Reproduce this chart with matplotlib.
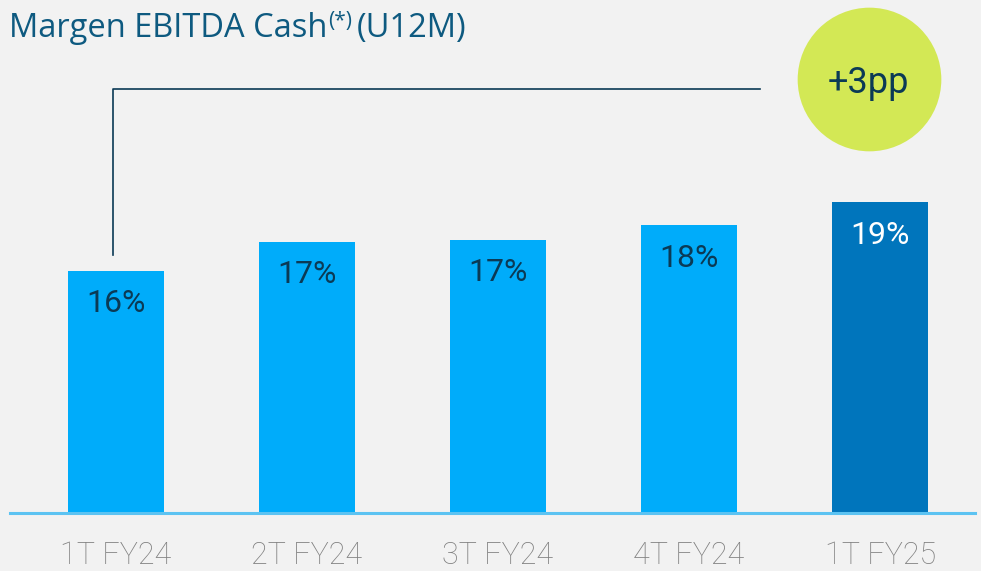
import matplotlib
matplotlib.use("Agg")
import matplotlib.pyplot as plt

# data
quarters = ["1T FY24", "2T FY24", "3T FY24", "4T FY24", "1T FY25"]
margin = [15.8, 17.2, 17.3, 18.0, 19.1]
margin_labels = ["16%", "17%", "17%", "18%", "19%"]
delta_label = "+3pp"

bg = "#f2f2f2"
light_blue = "#00acfa"
dark_blue = "#0075bc"
navy = "#0b3a55"
title_col = "#0e5a80"
lime = "#d3e855"

plt.rcParams["font.family"] = ["Roboto", "DejaVu Sans"]

fig = plt.figure(figsize=(9.81, 5.71), dpi=100, facecolor=bg)
ax = fig.add_axes([10 / 981, 58 / 571, 965 / 981, 513 / 571])
ax.set_facecolor(bg)

colors = [light_blue] * (len(quarters) - 1) + [dark_blue]
x = list(range(len(quarters)))
ax.bar(x, margin, width=0.503, color=colors, zorder=2)
ax.set_xlim(-0.555, 4.497)
ax.set_ylim(4.22, 4.22 + 513 / 20.9)

for i, (v, lab) in enumerate(zip(margin, margin_labels)):
    c = "white" if i == len(quarters) - 1 else navy
    ax.text(i, v - 1.58, lab, ha="center", va="center", fontsize=23, color=c)

# baseline
ax.axhline(4.22, color="#5cc3f2", lw=2.2, zorder=3, clip_on=False)

for s in ax.spines.values():
    s.set_visible(False)
ax.set_yticks([])
ax.set_xticks(x)
ax.set_xticklabels(quarters, fontsize=22, color="#808080", fontweight="light")
ax.tick_params(axis="x", length=0, pad=20)

# connector from first bar to the bubble
ax.plot([-0.015, -0.015, 3.372], [margin[0] + 0.77, 24.51, 24.51],
        color=navy, lw=1.2, zorder=2)

# bubble
ax.scatter([0.890], [0.846], s=10700, color=lime, transform=ax.transAxes,
           zorder=4, clip_on=False, linewidths=0)
ax.text(0.890, 0.8187, delta_label, transform=ax.transAxes, ha="center",
        va="baseline", fontsize=26, color=navy, zorder=5)

# title with superscript
tfont = ["Open Sans", "DejaVu Sans"]
ty = 1 - 37 / 571
t1 = fig.text(9 / 981, ty, "Margen EBITDA Cash", fontsize=23.5,
              color=title_col, va="baseline", ha="left", family=tfont)
fig.canvas.draw()
r = fig.canvas.get_renderer()
e1 = t1.get_window_extent(r)
t2 = fig.text((e1.x1 + 1) / 981, 1 - 27 / 571, "(*)", fontsize=15,
              color=title_col, va="baseline", ha="left", family=tfont)
e2 = t2.get_window_extent(r)
fig.text((e2.x1 + 4) / 981, ty, "(U12M)", fontsize=23.5, color=title_col,
         va="baseline", ha="left", family=tfont)

fig.savefig("out.png", dpi=100, facecolor=bg)
